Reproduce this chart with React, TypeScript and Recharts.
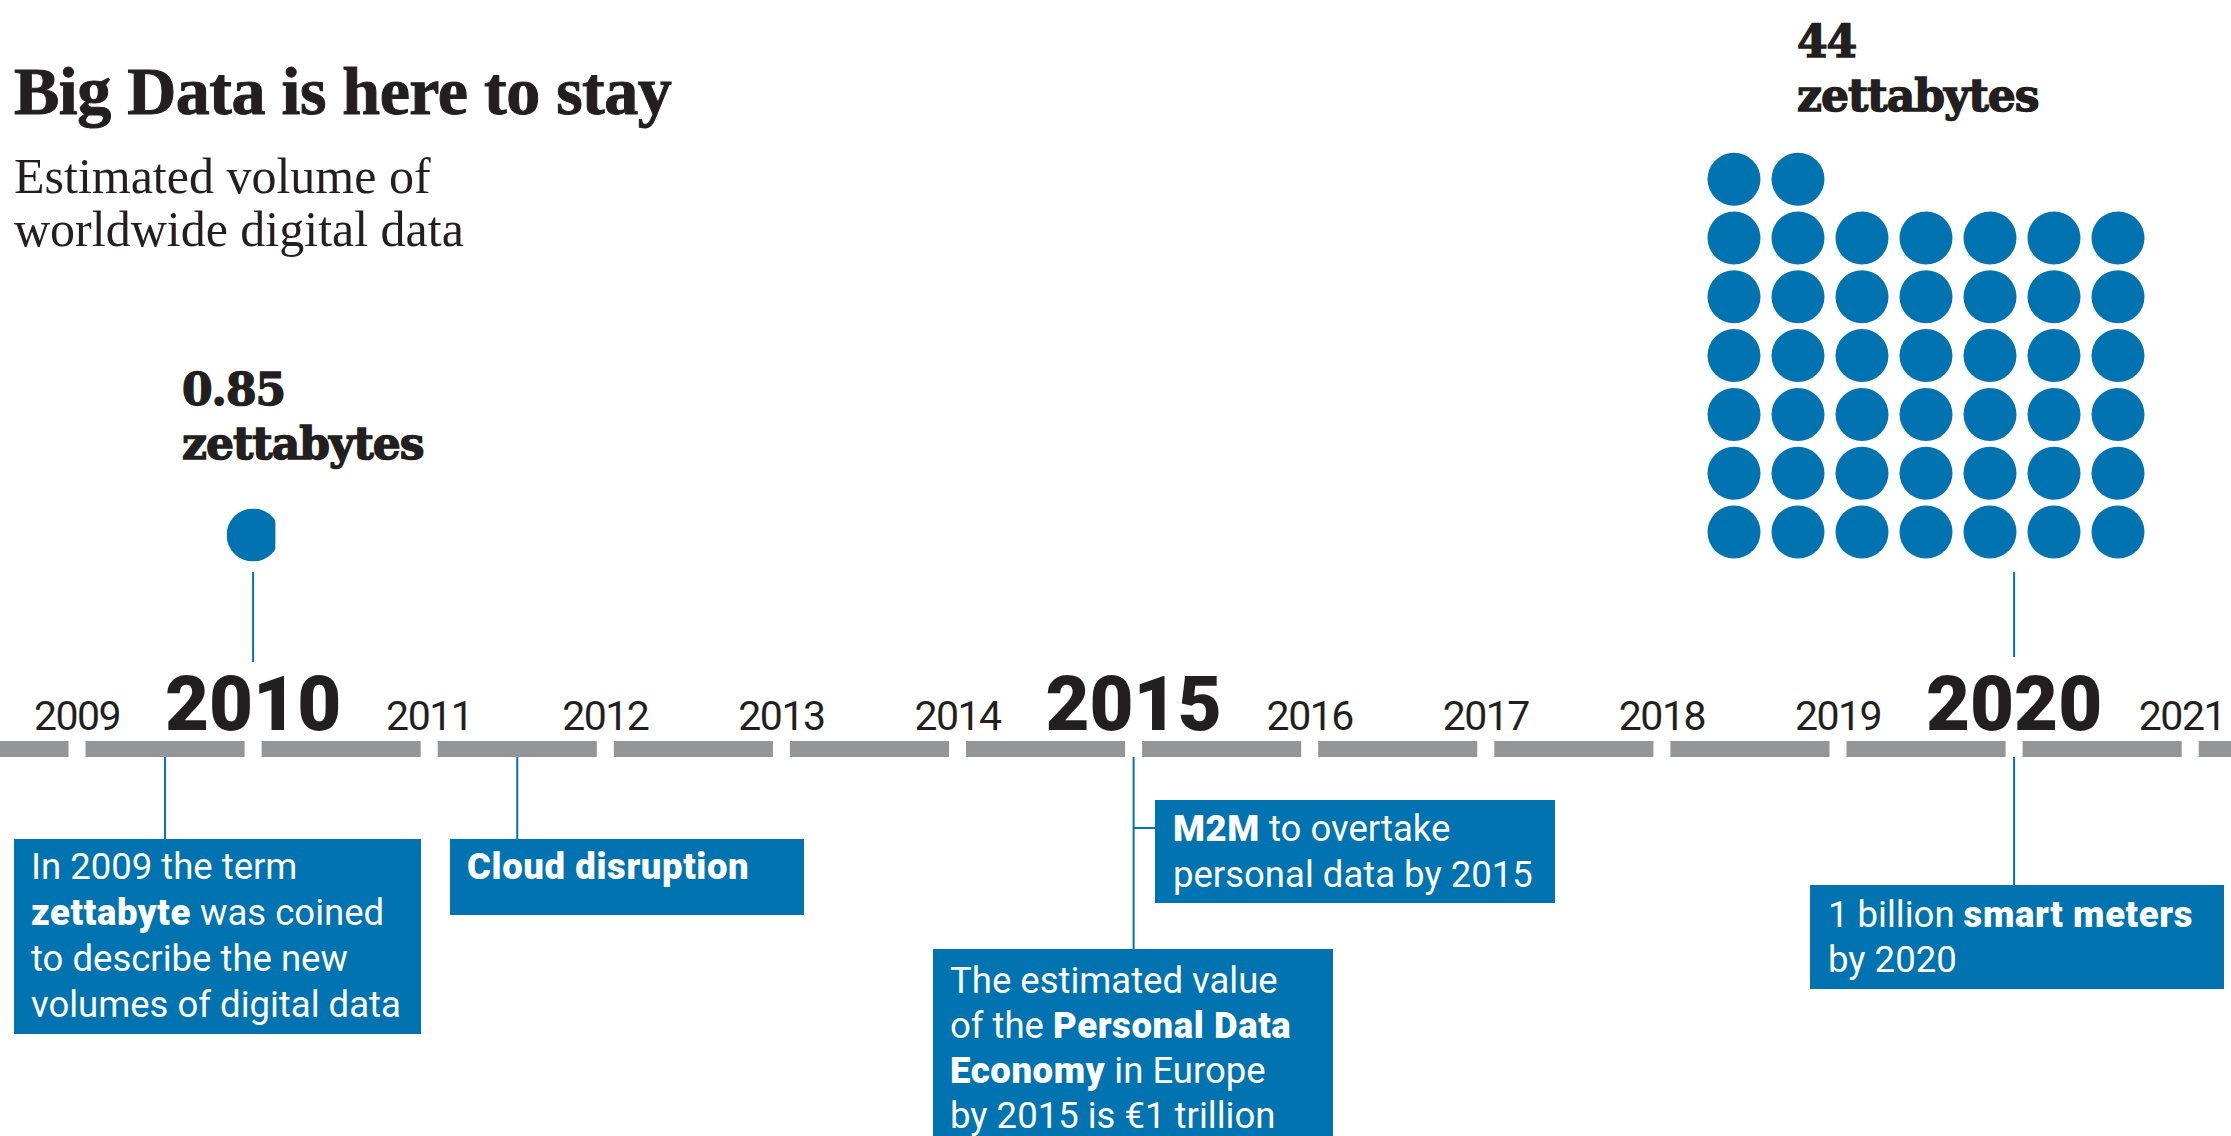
import React from "react";
import {
  ScatterChart,
  Scatter,
  XAxis,
  YAxis,
  ReferenceArea,
  ReferenceLine,
} from "recharts";

const W = 2231;
const H = 1136;
const BLUE = "#0173b1";
const GREY = "#939598";
const INK = "#231f20";

// timeline
const years = [2009, 2010, 2011, 2012, 2013, 2014, 2015, 2016, 2017, 2018, 2019, 2020, 2021];
const majorYears = [2010, 2015, 2020];

// estimated volume of worldwide digital data
const volumeYears = [2010, 2020];
const volumeValues = [0.85, 44];
const volumeLabels = ["0.85", "44"];
const volumeUnit = "zettabytes";

// events below the timeline ([text, bold] runs per line)
const eventYears = [2009.5, 2011.5, 2015, 2015, 2020];
const eventLines: Array<Array<Array<[string, boolean]>>> = [
  [
    [["In 2009 the term", false]],
    [["zettabyte", true], [" was coined", false]],
    [["to describe the new", false]],
    [["volumes of digital data", false]],
  ],
  [[["Cloud disruption", true]]],
  [
    [["M2M", true], [" to overtake", false]],
    [["personal data by 2015", false]],
  ],
  [
    [["The estimated value", false]],
    [["of the ", false], ["Personal Data", true]],
    [["Economy", true], [" in Europe", false]],
    [["by 2015 is \u20ac1 trillion", false]],
  ],
  [
    [["1 billion ", false], ["smart meters", true]],
    [["by 2020", false]],
  ],
];

// ---- layout (pixels) ----
const PX_PER_YEAR = 176.1;
const X0 = 2009 - 77 / PX_PER_YEAR;
const X1 = X0 + W / PX_PER_YEAR;
const GAP = 8.5 / PX_PER_YEAR;
const BAR_TOP = 741;
const BAR_BOTTOM = 757;
const LABEL_BASE = 730;

const DOT_R = 26.5;
const DOT_Y = 535;
const GRID_COLS = 7;
const GRID_LEFT = X0 + 1734 / PX_PER_YEAR;
const GRID_COL_STEP = 64 / PX_PER_YEAR;
const GRID_BOTTOM = 532;
const GRID_ROW_STEP = 58.8;

const boxes = [
  { left: 14, top: 839, width: 407, height: 195, tx: 31, base: 879, gap: 46, lineTop: BAR_BOTTOM },
  { left: 450, top: 839, width: 354, height: 76, tx: 467, base: 879, gap: 46, lineTop: BAR_BOTTOM },
  { left: 1155, top: 800, width: 400, height: 103, tx: 1173, base: 841, gap: 46, lineTop: BAR_BOTTOM },
  { left: 933, top: 949, width: 400, height: 200, tx: 950, base: 993, gap: 45, lineTop: BAR_BOTTOM },
  { left: 1810, top: 885, width: 414, height: 104, tx: 1828, base: 927, gap: 45, lineTop: BAR_BOTTOM },
];

const segments: Array<[number, number]> = [];
segments.push([X0, years[0] - GAP]);
for (let i = 0; i < years.length - 1; i++) segments.push([years[i] + GAP, years[i + 1] - GAP]);
segments.push([years[years.length - 1] + GAP, X1]);

const yearPoints = years.map((y) => ({ x: y, y: LABEL_BASE, major: majorYears.includes(y) }));

const smallDot = [{ x: volumeYears[0], y: DOT_Y, v: volumeValues[0] }];
const gridDots = Array.from({ length: Math.round(volumeValues[1]) }, (_, i) => ({
  x: GRID_LEFT + (i % GRID_COLS) * GRID_COL_STEP,
  y: GRID_BOTTOM - Math.floor(i / GRID_COLS) * GRID_ROW_STEP,
}));

const sans = "Roboto, 'Open Sans', sans-serif";
const slab = "'DejaVu Serif', serif";
const serif = "'Liberation Serif', serif";

const YearLabel = (props: any) => {
  const { cx, cy, payload } = props;
  // last label sits at the page edge, keep it inside
  const atEdge = cx + 60 > W;
  return (
    <text
      x={atEdge ? W - 6 : cx}
      y={cy}
      textAnchor={atEdge ? "end" : "middle"}
      fontFamily={sans}
      fontWeight={payload.major ? 900 : 400}
      fontSize={payload.major ? 76 : 41}
      letterSpacing={payload.major ? 0 : -1.5}
      fill={INK}
    >
      {payload.x}
    </text>
  );
};

const PartialDot = (props: any) => {
  const { cx, cy } = props;
  return (
    <g>
      <defs>
        <clipPath id="partial-dot">
          <rect x={cx - DOT_R} y={cy - DOT_R} width={DOT_R * 2 * 0.92} height={DOT_R * 2} />
        </clipPath>
      </defs>
      <circle cx={cx} cy={cy} r={DOT_R} fill={BLUE} clipPath="url(#partial-dot)" />
    </g>
  );
};

const FullDot = (props: any) => <circle cx={props.cx} cy={props.cy} r={DOT_R} fill={BLUE} />;

const heavy = { fontFamily: slab, fontWeight: 700, fontSize: 44, letterSpacing: -1, fill: INK, stroke: INK, strokeWidth: 1.4 };

export default function App() {
  return (
    <div style={{ position: "absolute", left: 0, top: 0, width: W, height: H, overflow: "hidden", background: "#fff" }}>
      <ScatterChart width={W} height={H} margin={{ top: 0, right: 0, bottom: 0, left: 0 }}>
        <XAxis type="number" dataKey="x" domain={[X0, X1]} hide allowDataOverflow />
        <YAxis type="number" dataKey="y" domain={[0, H]} reversed hide allowDataOverflow />
        {segments.map((s, i) => (
          <ReferenceArea
            key={`seg-${i}`}
            x1={s[0]}
            x2={s[1]}
            y1={BAR_TOP}
            y2={BAR_BOTTOM}
            fill={GREY}
            fillOpacity={1}
            stroke="none"
            ifOverflow="visible"
          />
        ))}
        <ReferenceLine segment={[{ x: volumeYears[0], y: 572 }, { x: volumeYears[0], y: 662 }]} stroke={BLUE} strokeWidth={2} />
        <ReferenceLine segment={[{ x: volumeYears[1], y: 572 }, { x: volumeYears[1], y: 657 }]} stroke={BLUE} strokeWidth={2} />
        {eventYears.map((y, i) =>
          i === 2 ? null : (
            <ReferenceLine
              key={`ev-${i}`}
              segment={[{ x: y, y: boxes[i].lineTop }, { x: y, y: boxes[i].top }]}
              stroke={BLUE}
              strokeWidth={2}
            />
          )
        )}
        <ReferenceLine
          segment={[{ x: eventYears[2], y: 828 }, { x: X0 + boxes[2].left / PX_PER_YEAR, y: 828 }]}
          stroke={BLUE}
          strokeWidth={2}
        />
        <Scatter data={yearPoints} shape={<YearLabel />} isAnimationActive={false} />
        <Scatter data={smallDot} shape={<PartialDot />} isAnimationActive={false} />
        <Scatter data={gridDots} shape={<FullDot />} isAnimationActive={false} />
      </ScatterChart>

      <svg width={W} height={H} style={{ position: "absolute", left: 0, top: 0, pointerEvents: "none" }}>
        <text x={14} y={114} fontFamily={serif} fontWeight={700} fontSize={68} letterSpacing={-0.5} fill={INK} stroke={INK} strokeWidth={1}>
          Big Data is here to stay
        </text>
        <text x={14} y={193} fontFamily={serif} fontSize={50} fill={INK}>
          Estimated volume of
        </text>
        <text x={14} y={246} fontFamily={serif} fontSize={50} fill={INK}>
          worldwide digital data
        </text>

        <text x={182} y={405} {...heavy}>
          {volumeLabels[0]}
        </text>
        <text x={182} y={459} {...heavy}>
          {volumeUnit}
        </text>
        <text x={1797} y={57} {...heavy}>
          {volumeLabels[1]}
        </text>
        <text x={1797} y={111} {...heavy}>
          {volumeUnit}
        </text>

        {boxes.map((b, i) => (
          <g key={`box-${i}`}>
            <rect x={b.left} y={b.top} width={b.width} height={b.height} fill={BLUE} />
            {eventLines[i].map((line, j) => (
              <text key={j} x={b.tx} y={b.base + j * b.gap} fontFamily={sans} fontSize={36.5} fill="#fff">
                {line.map(([t, bold], k) => (
                  <tspan key={k} fontWeight={bold ? 900 : 400} letterSpacing={bold ? 0.6 : 0}>
                    {t}
                  </tspan>
                ))}
              </text>
            ))}
          </g>
        ))}
      </svg>
    </div>
  );
}
